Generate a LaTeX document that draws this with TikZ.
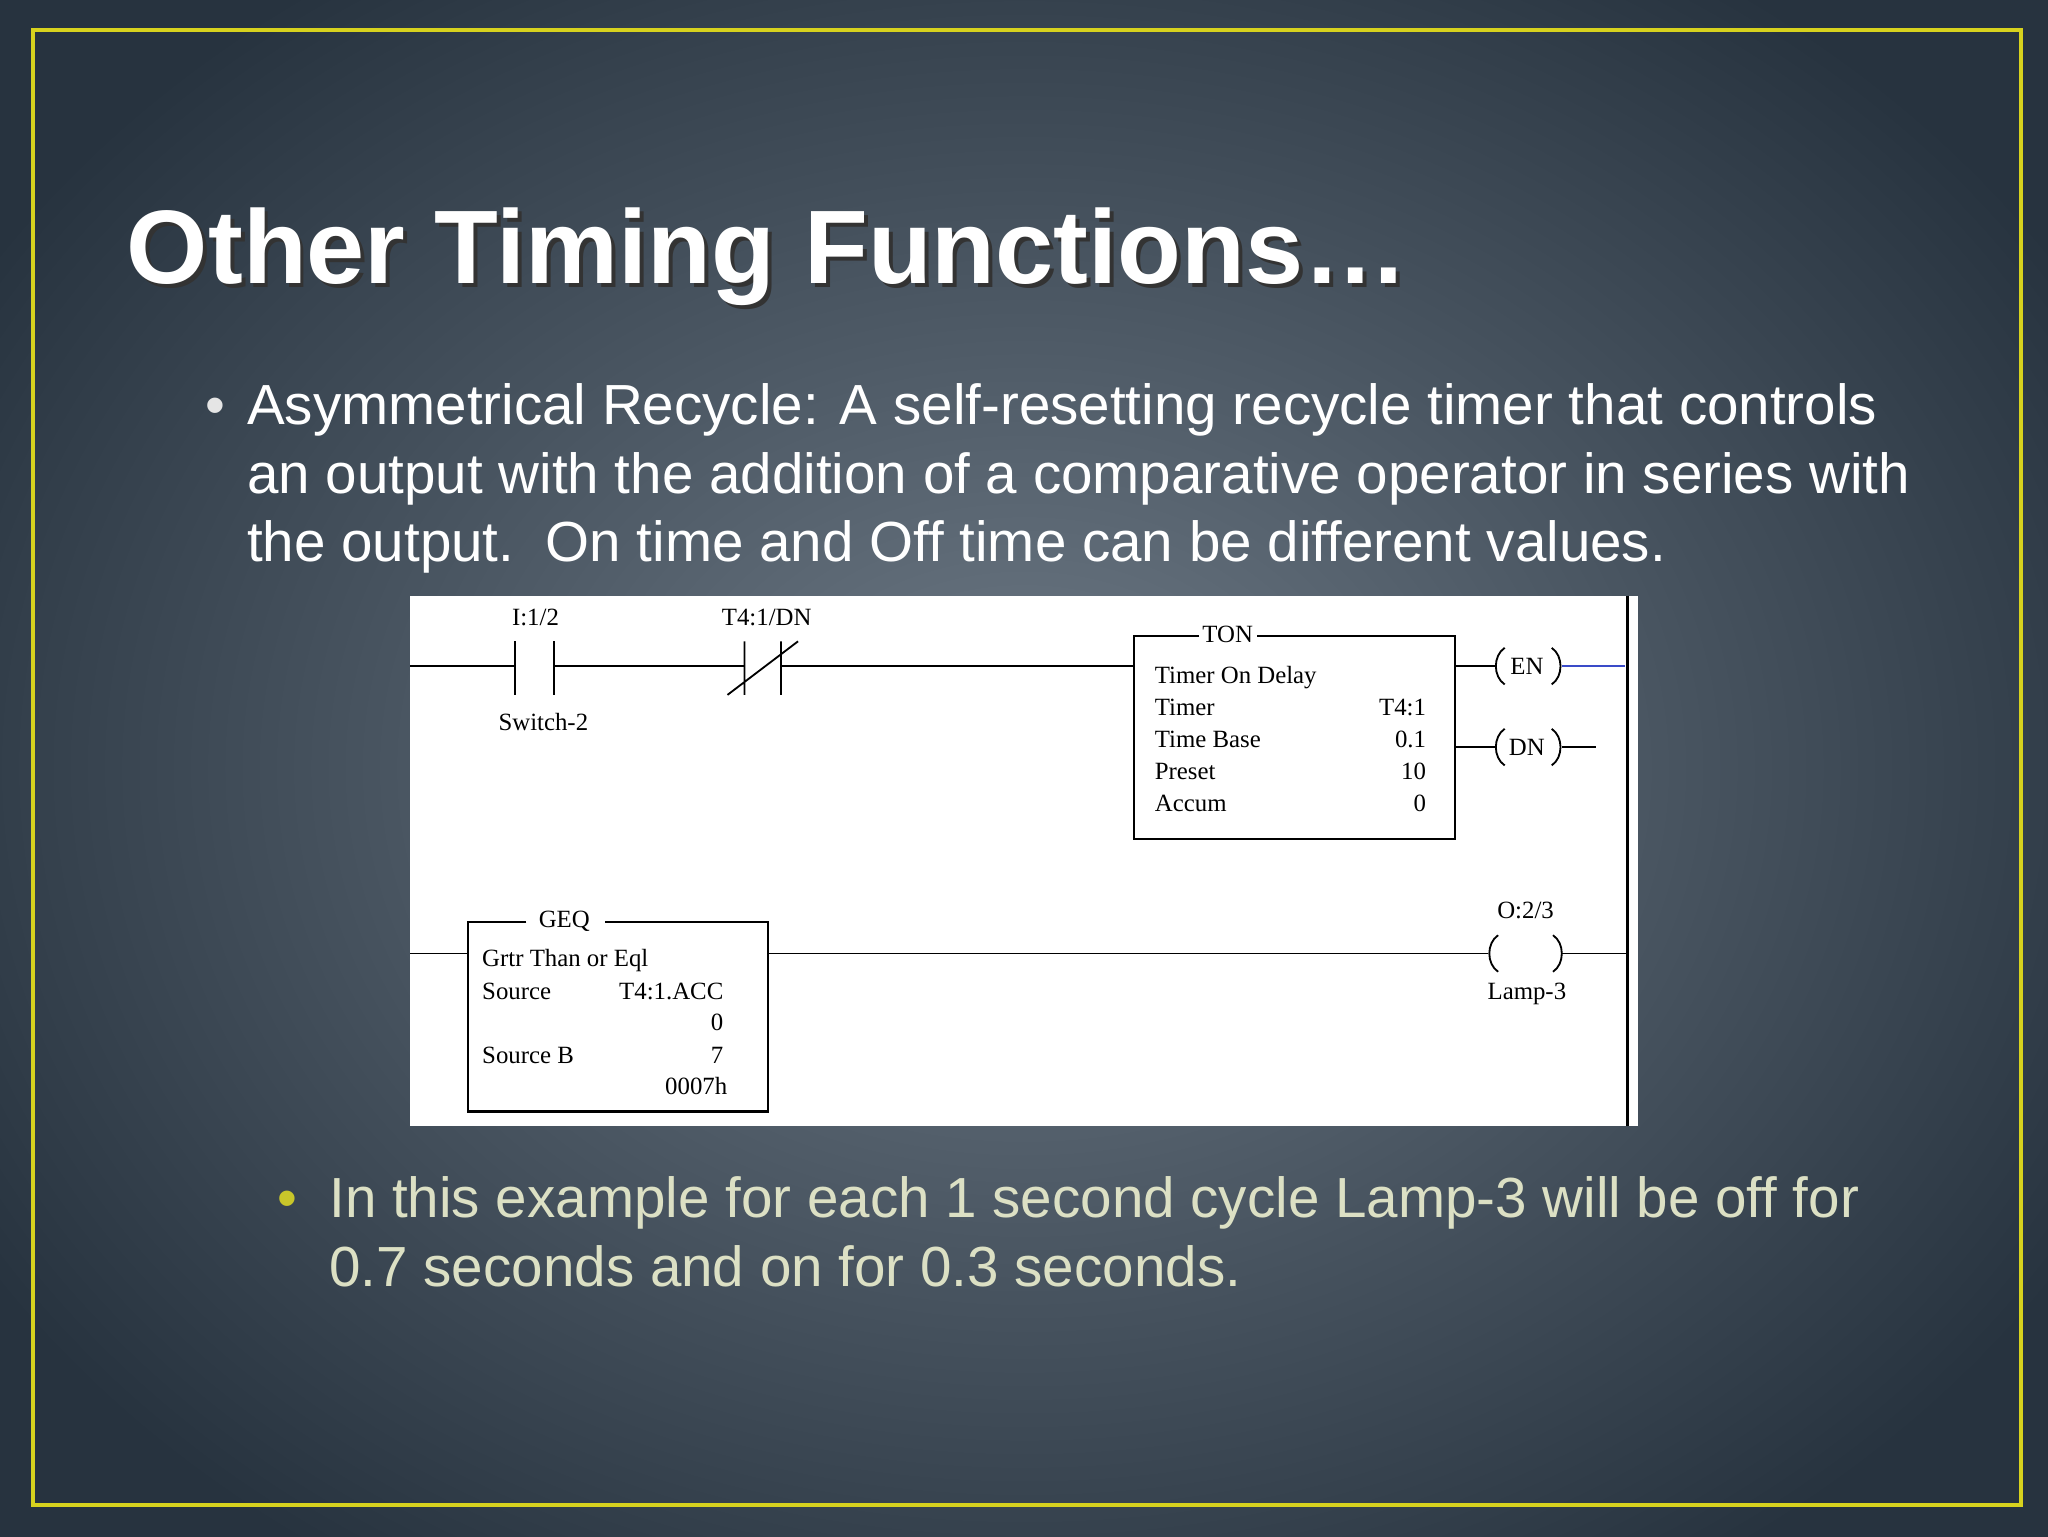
\documentclass[tikz,border=0pt]{standalone}
\usepackage{fontspec}
\setmainfont{Liberation Sans}
\newfontfamily\serifll{Liberation Serif}
\usetikzlibrary{shadings}
\definecolor{bgin}{HTML}{6E7A86}
\definecolor{bgout}{HTML}{27333F}
\definecolor{frameY}{HTML}{D7D21E}
\definecolor{subtxt}{HTML}{DCE0C4}
\definecolor{bul2}{HTML}{C8C62A}
\definecolor{bluew}{HTML}{3A4BC8}
\tikzset{
  lad/.style={line width=1.4pt,black},
  lbl/.style={font=\serifll\fontsize{19}{19}\selectfont,inner sep=0pt},
  lbll/.style={lbl,anchor=base west},
  lblr/.style={lbl,anchor=base east},
  boxs/.style={draw=black,line width=1.6pt},
  btext/.style={font=\fontsize{43.3}{53}\selectfont,inner sep=0pt,anchor=base west},
}
\newcommand\coilL[2]{\draw[lad] (#1,#2-14) .. controls (#1-9,#2-8) and (#1-9,#2+8) .. (#1,#2+14);}
\newcommand\coilR[2]{\draw[lad] (#1,#2-14) .. controls (#1+9,#2-8) and (#1+9,#2+8) .. (#1,#2+14);}
\begin{document}
\begin{tikzpicture}[x=1pt,y=-1pt]
\useasboundingbox (0,0) rectangle (1568,1176);
\shade[inner color=bgin,outer color=bgout] (-150,-150) rectangle (1718,1326);
\draw[frameY,line width=3pt] (25,23) rectangle (1547,1152);
% title
\node[font=\bfseries\fontsize{80}{80}\selectfont,text=black!80,anchor=base west,inner sep=0pt] at (100,220) {Other Timing Functions…};
\node[font=\bfseries\fontsize{80}{80}\selectfont,text=white,anchor=base west,inner sep=0pt] (title) at (97,217) {Other Timing Functions…};
% bullet 1
\node[btext,text=white!80!gray] (b1) at (157,325) {•};
\node[btext,text=white] (l1) at (189,325) {Asymmetrical Recycle: A self-resetting recycle timer that controls};
\node[btext,text=white] (l2) at (189,378) {an output with the addition of a comparative operator in series with};
\node[btext,text=white] (l3) at (189,430) {the output.\ \ On time and Off time can be different values.};
% bullet 2
\node[btext,text=bul2] (b2) at (212,932) {•};
\node[btext,text=subtxt] (m1) at (252,932) {In this example for each 1 second cycle Lamp-3 will be off for};
\node[btext,text=subtxt] (m2) at (252,985) {0.7 seconds and on for 0.3 seconds.};
% ladder panel
\fill[white] (314,456) rectangle (1254,862);
\draw[line width=2.5pt] (1246,456) -- (1246,862);
% rung 1
\draw[lad] (314,510) -- (394,510) (424,510) -- (570,510) (598,510) -- (868,510);
\draw[lad] (394,491) -- (394,532) (424,491) -- (424,532);
\draw[lad] (570,491) -- (570,532) (598,491) -- (598,532) (557,532) -- (611,491);
\node[lbl] (i12) at (410,473) {I:1/2};
\node[lbl] (sw2) at (416,553) {Switch-2};
\node[lbl] (t4dn) at (587,473) {T4:1/DN};
% TON box
\draw[boxs] (918,487) -- (868,487) -- (868,642) -- (1114,642) -- (1114,487) -- (962,487);
\node[lbl] (ton) at (940,486) {TON};
\node[lbll] at (884,523) {Timer On Delay};
\node[lbll] at (884,548) {Timer};
\node[lbll] at (884,572) {Time Base};
\node[lbll] at (884,597) {Preset};
\node[lbll] at (884,621) {Accum};
\node[lblr] at (1092,548) {T4:1};
\node[lblr] at (1092,572) {0.1};
\node[lblr] at (1092,597) {10};
\node[lblr] at (1092,621) {0};
% EN coil
\draw[lad] (1114,510) -- (1145,510);
\coilL{1152}{510} \coilR{1188}{510}
\node[lbl] (en) at (1169,510) {EN};
\draw[line width=1.4pt,bluew] (1196,510) -- (1244,510);
% DN coil
\draw[lad] (1114,572) -- (1145,572);
\coilL{1152}{572} \coilR{1188}{572}
\node[lbl] (dn) at (1169,572) {DN};
\draw[lad] (1196,572) -- (1222,572);
% rung 2
\draw[lad] (314,730) -- (358,730) (588,730) -- (1139,730) (1196,730) -- (1246,730);
\draw[boxs] (403,706) -- (358,706) -- (358,851) -- (588,851) -- (588,706) -- (463,706);
\node[lbl] (geq) at (432,705) {GEQ};
\node[lbll] at (369,740) {Grtr Than or Eql};
\node[lbll] at (369,765) {Source};
\node[lblr] at (554,765) {T4:1.ACC};
\node[lblr] at (554,789) {0};
\node[lbll] at (369,814) {Source B};
\node[lblr] at (554,814) {7};
\node[lblr] at (557,838) {0007h};
% output coil
\coilL{1147}{730} \coilR{1189}{730}
\node[lbl] (o23) at (1168,697) {O:2/3};
\node[lbl] (lamp) at (1169,761) {Lamp-3};
\end{tikzpicture}
\end{document}
